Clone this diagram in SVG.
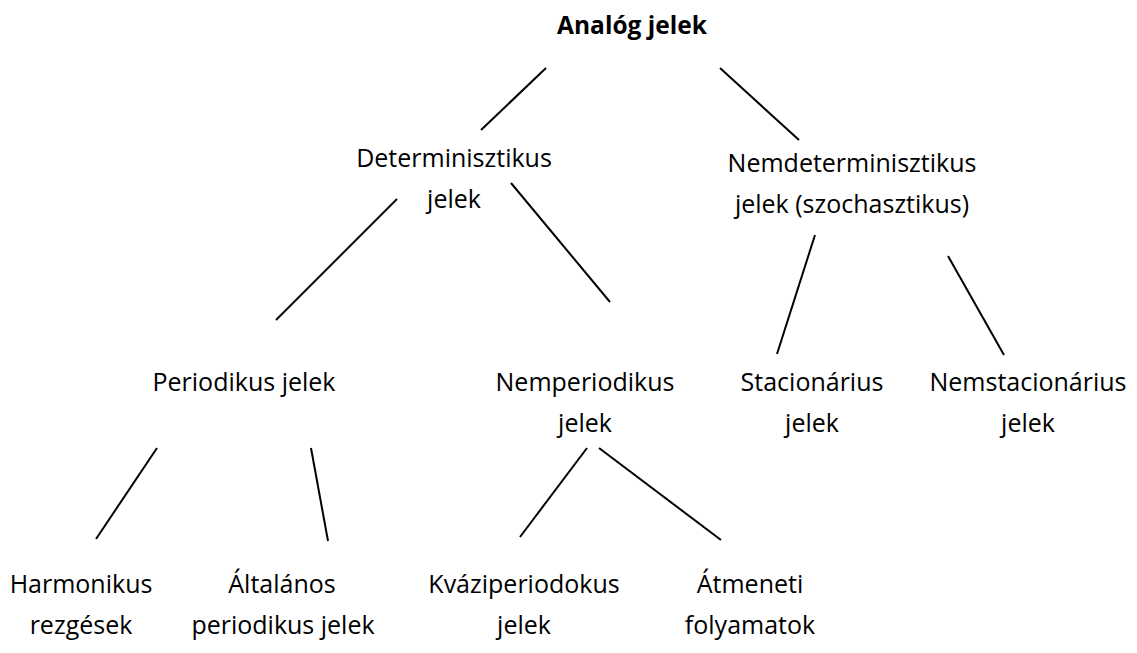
<svg xmlns="http://www.w3.org/2000/svg" width="1137" height="653" viewBox="0 0 1137 653">
<style>
text{font-family:"Open Sans","Noto Sans","DejaVu Sans",sans-serif;font-size:25px;fill:#000;text-anchor:middle}
.b{font-weight:bold;font-size:24.5px}
#connectors line{stroke:#000;stroke-width:2}
</style>
<rect width="1137" height="653" fill="#fff"/>
<g id="connectors">
<line x1="546" y1="68" x2="481" y2="130"/>
<line x1="720" y1="68" x2="799" y2="140"/>
<line x1="397" y1="199" x2="276" y2="320"/>
<line x1="511" y1="183" x2="610" y2="302"/>
<line x1="815" y1="235" x2="777" y2="354"/>
<line x1="948" y1="256" x2="1004" y2="355"/>
<line x1="157" y1="448" x2="96" y2="539"/>
<line x1="311" y1="448" x2="328" y2="541"/>
<line x1="587" y1="448" x2="520" y2="537"/>
<line x1="599" y1="448" x2="721" y2="540"/>
</g>
<g id="n-analog"><text class="b" x="632" y="34">Analóg jelek</text></g>
<g id="n-det"><text x="454" y="167">Determinisztikus</text><text x="454" y="208">jelek</text></g>
<g id="n-nemdet"><text x="852" y="172">Nemdeterminisztikus</text><text x="852" y="213">jelek (szochasztikus)</text></g>
<g id="n-period"><text x="244" y="391">Periodikus jelek</text></g>
<g id="n-nemperiod"><text x="585" y="391">Nemperiodikus</text><text x="585" y="432">jelek</text></g>
<g id="n-stac"><text x="812" y="391">Stacionárius</text><text x="812" y="432">jelek</text></g>
<g id="n-nemstac"><text x="1028" y="391">Nemstacionárius</text><text x="1028" y="432">jelek</text></g>
<g id="n-harm"><text x="81" y="593">Harmonikus</text><text x="81" y="634">rezgések</text></g>
<g id="n-alt"><text x="282" y="593">Általános</text><text x="283" y="634">periodikus jelek</text></g>
<g id="n-kvazi"><text x="524" y="593">Kváziperiodokus</text><text x="524" y="634">jelek</text></g>
<g id="n-atm"><text x="750" y="593">Átmeneti</text><text x="750" y="634">folyamatok</text></g>
</svg>
